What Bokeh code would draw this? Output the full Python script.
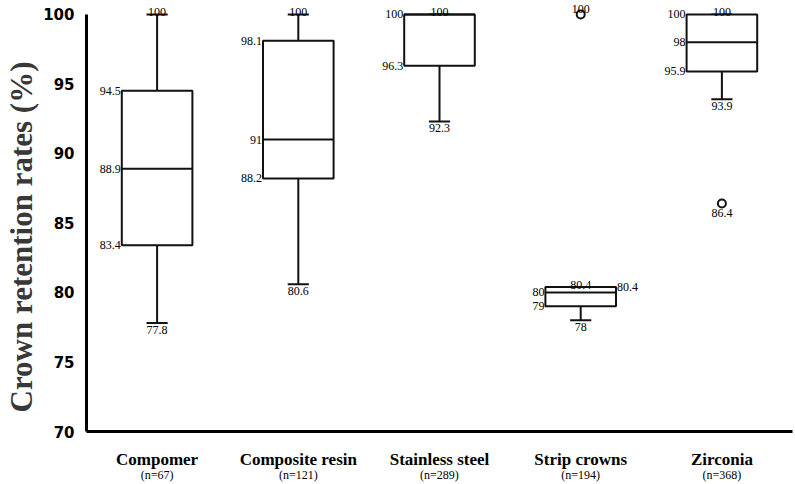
from bokeh.plotting import figure
from bokeh.models import ColumnDataSource, CategoricalAxis, FactorRange, Range1d, Title
from bokeh.transform import dodge
from bokeh.embed import file_html
from bokeh.resources import INLINE

# ---- data ----
categories = ["Compomer", "Composite resin", "Stainless steel", "Strip crowns", "Zirconia"]
n_counts = [67, 121, 289, 194, 368]
mins = [77.8, 80.6, 92.3, 78, 93.9]
q1s = [83.4, 88.2, 96.3, 79, 95.9]
medians = [88.9, 91, 100, 80, 98]
q3s = [94.5, 98.1, 100, 80.4, 100]
maxs = [100, 100, 100, 80.4, 100]
outlier_cats = ["Strip crowns", "Zirconia"]
outlier_vals = [100, 86.4]
outlier_label_side = ["above", "below"]
q3_label_side = ["left", "left", "left", "right", "left"]
y_ticks = [70, 75, 80, 85, 90, 95, 100]
y_title = "Crown retention rates (%)"
n_labels = [f"(n={n})" for n in n_counts]


def fmt(v):
    return f"{v:g}"


SERIF = "Liberation Serif"
INK = "#111111"

p = figure(
    x_range=FactorRange(*categories, range_padding=0),
    y_range=Range1d(70, 101.0),
    width=795, height=484,
    output_backend="svg", toolbar_location=None,
    min_border_left=86, min_border_right=3, min_border_top=0, min_border_bottom=52,
)
p.extra_x_ranges = {"n": FactorRange(*n_labels, range_padding=0)}
p.outline_line_color = None
p.xgrid.grid_line_color = None
p.ygrid.grid_line_color = None
p.background_fill_color = "white"
p.border_fill_color = "white"

src = ColumnDataSource(dict(cat=categories, mn=mins, q1=q1s, med=medians, q3=q3s, mx=maxs))

# whiskers
p.segment(x0="cat", x1="cat", y0="q3", y1="mx", source=src, line_color=INK, line_width=2)
p.segment(x0="cat", x1="cat", y0="q1", y1="mn", source=src, line_color=INK, line_width=2)
# caps
p.segment(x0=dodge("cat", -0.075, range=p.x_range), x1=dodge("cat", 0.075, range=p.x_range),
          y0="mx", y1="mx", source=src, line_color=INK, line_width=2)
p.segment(x0=dodge("cat", -0.075, range=p.x_range), x1=dodge("cat", 0.075, range=p.x_range),
          y0="mn", y1="mn", source=src, line_color=INK, line_width=2)
# boxes
p.vbar(x="cat", width=0.5, bottom="q1", top="q3", source=src,
       fill_color="white", line_color=INK, line_width=2)
# medians
p.segment(x0=dodge("cat", -0.25, range=p.x_range), x1=dodge("cat", 0.25, range=p.x_range),
          y0="med", y1="med", source=src, line_color=INK, line_width=2)

# outliers
osrc = ColumnDataSource(dict(cat=outlier_cats, v=outlier_vals))
p.scatter(x="cat", y="v", source=osrc, marker="circle", size=8,
          fill_color="white", line_color=INK, line_width=2)

# ---- value labels ----
label_kw = dict(text_font=SERIF, text_font_size="12px", text_color="black")

p.text(x=categories, y=maxs, text=[fmt(v) for v in maxs],
       text_align="center", text_baseline="alphabetic", y_offset=-2, **label_kw)
p.text(x=categories, y=mins, text=[fmt(v) for v in mins],
       text_align="center", text_baseline="top", y_offset=3, **label_kw)

lx, ly, lt = [], [], []
rx, ry, rt = [], [], []
for c, a, m, b, side in zip(categories, q3s, medians, q1s, q3_label_side):
    if side == "left":
        lx.append(c); ly.append(a); lt.append(fmt(a))
    else:
        rx.append(c); ry.append(a); rt.append(fmt(a))
    if m != a:
        lx.append(c); ly.append(m); lt.append(fmt(m))
    lx.append(c); ly.append(b); lt.append(fmt(b))

lsrc = ColumnDataSource(dict(cat=lx, y=ly, t=lt))
p.text(x=dodge("cat", -0.25, range=p.x_range), y="y", text="t", source=lsrc,
       text_align="right", text_baseline="middle", x_offset=-1, **label_kw)
rsrc = ColumnDataSource(dict(cat=rx, y=ry, t=rt))
p.text(x=dodge("cat", 0.25, range=p.x_range), y="y", text="t", source=rsrc,
       text_align="left", text_baseline="alphabetic", x_offset=1, **label_kw)

ax_, ay_, at_, bx_, by_, bt_ = [], [], [], [], [], []
for c, v, side in zip(outlier_cats, outlier_vals, outlier_label_side):
    if side == "above":
        ax_.append(c); ay_.append(v); at_.append(fmt(v))
    else:
        bx_.append(c); by_.append(v); bt_.append(fmt(v))
p.text(x=ax_, y=ay_, text=at_, text_align="center", text_baseline="alphabetic",
       y_offset=-5, **label_kw)
p.text(x=bx_, y=by_, text=bt_, text_align="center", text_baseline="top",
       y_offset=6, **label_kw)

# ---- axes ----
ya = p.yaxis[0]
ya.ticker = y_ticks
ya.bounds = (70, 100)
ya.axis_line_width = 3
ya.axis_line_color = "black"
ya.major_tick_line_color = None
ya.minor_tick_line_color = None
ya.major_tick_out = 0
ya.major_label_text_font = "DejaVu Sans"
ya.major_label_text_font_style = "bold"
ya.major_label_text_font_size = "15px"
ya.major_label_text_color = "black"
ya.major_label_standoff = 12

title = Title(text=y_title, align="left", offset=19, standoff=3,
              text_font=SERIF, text_font_style="bold", text_font_size="31px",
              text_color="#383838")
p.add_layout(title, "left")

xa = p.xaxis[0]
xa.axis_line_width = 3
xa.axis_line_color = "black"
xa.major_tick_line_color = None
xa.major_tick_out = 0
xa.major_label_text_font = SERIF
xa.major_label_text_font_style = "bold"
xa.major_label_text_font_size = "17px"
xa.major_label_text_color = "black"
xa.major_label_standoff = 18

xa2 = CategoricalAxis(x_range_name="n")
xa2.axis_line_color = None
xa2.major_tick_line_color = None
xa2.minor_tick_line_color = None
xa2.major_tick_out = 0
xa2.major_label_standoff = -4
xa2.major_label_text_font = SERIF
xa2.major_label_text_font_size = "12px"
xa2.major_label_text_color = "black"
p.add_layout(xa2, "below")

open("out.html", "w").write(file_html(p, INLINE))
